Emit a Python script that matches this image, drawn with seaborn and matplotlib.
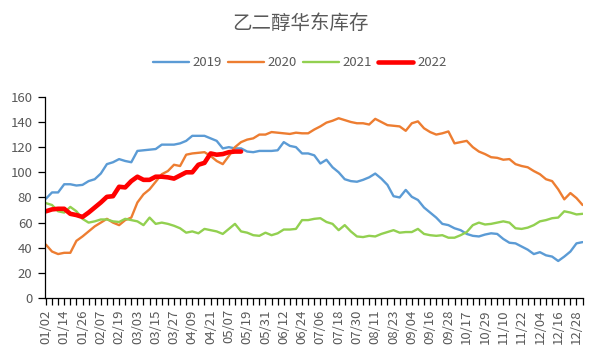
import numpy as np
import pandas as pd
import matplotlib
matplotlib.use("Agg")
import matplotlib.pyplot as plt
import seaborn as sns

# 每个点约4天，标签每3个点一个
tick_labels = ["01/02", "01/14", "01/26", "02/07", "02/19", "03/03", "03/15", "03/27",
               "04/09", "04/21", "05/07", "05/19", "05/31", "06/12", "06/24", "07/06",
               "07/18", "07/30", "08/11", "08/23", "09/04", "09/16", "09/28", "10/17",
               "10/29", "11/10", "11/22", "12/04", "12/16", "12/28"]

y2019 = [79, 84, 84, 90.5, 90.5, 89.5, 90, 93, 94.5, 99, 106.5, 108, 110.5, 109, 108,
         117, 117.5, 118, 118.5, 122, 122, 122, 123, 125, 129, 129, 129, 127, 125, 119,
         120, 119, 119, 116.5, 116, 117, 117, 117, 117.5, 124, 121, 120, 115, 115, 113.5,
         107, 110, 104, 100, 94.5, 93, 92.5, 94, 96, 99, 95, 90, 81, 80, 86,
         80.5, 78, 72, 68, 64, 59, 58, 55.5, 54, 51, 49.5, 49, 50.5, 51.5, 51,
         47, 44, 43.5, 41, 38.5, 35, 36.5, 34, 33, 29.5, 33, 37, 43.5, 44.5]

y2020 = [42.5, 37, 35, 36, 36, 45.5, 49, 53, 57, 60, 63, 60, 58, 62, 64,
         76, 82.5, 86.5, 92.5, 98.5, 101, 106, 105, 114, 115, 115.5, 116, 113, 109, 106.5,
         113, 120, 124, 126, 127, 130, 130, 132, 131.5, 131, 130.5, 131.5, 131, 131, 134,
         136.5, 139.5, 141, 143, 141.5, 140, 139, 139, 138, 142.5, 140, 137.5, 137, 136.5, 133,
         139, 140.5, 135, 132, 130, 131, 132.5, 123, 124, 125, 120, 116.5, 114.5, 112, 111.5,
         110, 110.5, 106.5, 105, 104, 101, 98.5, 94.5, 93, 86.5, 78.5, 83.5, 79.5, 74]

y2021 = [75.5, 74, 69, 68, 72.5, 69, 63, 60, 61, 62.5, 62.5, 61, 60.5, 63, 62,
         61, 58, 64, 59, 60, 59, 57.5, 55.5, 52, 53, 51.5, 55, 54, 53, 51,
         55, 59, 53, 52, 50, 49.5, 52, 50, 51.5, 54.5, 54.5, 55, 62, 62, 63,
         63.5, 60.5, 59, 54, 58, 53, 49, 48.5, 49.5, 49, 51, 52.5, 54, 52, 52.5,
         52.5, 55, 51, 50, 49.5, 50, 48, 48, 50, 52.5, 58, 60, 58.5, 59, 60,
         61, 60, 55.5, 55, 56, 58, 61, 62, 63.5, 64, 69, 68, 66.5, 67]

y2022 = [69, 70.5, 71, 71, 67, 66, 64.5, 68, 72, 76, 80.5, 81, 88.5, 88, 93,
         96.5, 94, 94, 96.5, 96.5, 96, 95, 97.5, 100, 100, 106, 107.5, 115, 114, 114.5,
         116, 116.5, 116.5]

series = {"2019": y2019, "2020": y2020, "2021": y2021, "2022": y2022}
colors = {"2019": "#5B9BD5", "2020": "#ED7D31", "2021": "#92D050", "2022": "#FF0000"}
widths = {"2019": 1.7, "2020": 1.7, "2021": 1.7, "2022": 3.3}

rows = []
for year, vals in series.items():
    for i, v in enumerate(vals):
        rows.append({"idx": i, "value": v, "year": year})
df = pd.DataFrame(rows)

sns.set_theme(style="white")
plt.rcParams["font.family"] = ["Noto Sans CJK SC", "DejaVu Sans"]

grey = "#595959"
fig = plt.figure(figsize=(6, 3.6), dpi=100)
ax = fig.add_axes([0.075, 0.172, 0.897, 0.559])

for year in series:
    sub = df[df["year"] == year]
    sns.lineplot(data=sub, x="idx", y="value", ax=ax, color=colors[year],
                 linewidth=widths[year], label=year)

n = len(y2019)
ax.set_xlim(-0.15, n - 0.9)
ax.set_ylim(0, 160)
ax.set_yticks(range(0, 161, 20))
ax.set_xticks(np.arange(0, 3 * len(tick_labels), 3))
ax.set_xticklabels(tick_labels, rotation=90)
ax.set_xticks(np.arange(0, n), minor=True)
ax.set_xlabel("")
ax.set_ylabel("")

for side in ["top", "right"]:
    ax.spines[side].set_visible(False)
for side in ["left", "bottom"]:
    ax.spines[side].set_color("black")
    ax.spines[side].set_linewidth(0.9)

ax.tick_params(axis="y", which="major", direction="out", length=5, width=0.9,
               color="black", labelsize=9.5, labelcolor=grey, pad=4, left=True)
ax.tick_params(axis="x", which="both", direction="out", length=5, width=0.9,
               color="black", labelsize=9.5, labelcolor=grey, pad=3, bottom=True)

ax.legend_.remove()
handles, labels = ax.get_legend_handles_labels()
fig.legend(handles, labels, loc="center", bbox_to_anchor=(0.5, 0.826), ncol=4,
           frameon=False, fontsize=9.5, labelcolor=grey, handlelength=2.7,
           handletextpad=0.3, columnspacing=0.45)

fig.text(0.5, 0.936, "乙二醇华东库存", ha="center", va="center", fontsize=14, color=grey)

fig.savefig("out.png", dpi=100)
